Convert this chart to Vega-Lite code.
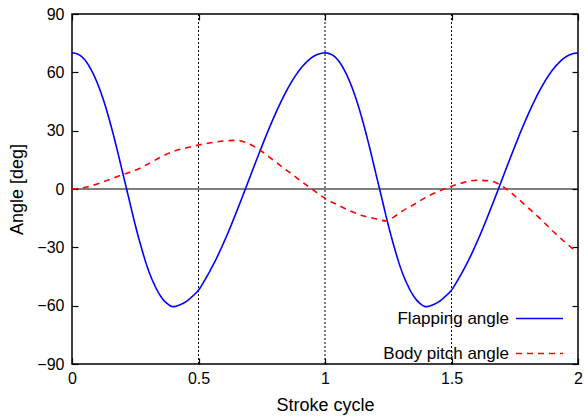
{
  "$schema": "https://vega.github.io/schema/vega-lite/v6.json",
  "width": 506,
  "height": 350,
  "autosize": "none",
  "padding": {"left": 72, "top": 14, "right": 7, "bottom": 53},
  "config": {
    "font": "Liberation Sans",
    "view": {"stroke": "black", "strokeWidth": 1.5},
    "axis": {"labelFont": "Liberation Sans", "titleFont": "Liberation Sans", "labelColor": "black", "titleColor": "black", "tickColor": "black", "tickWidth": 1.2, "domain": false, "grid": false, "titleFontWeight": "normal"}
  },
  "datasets": {
    "curves": [
      {"t": 0, "angle": 70, "series": "Flapping angle"},
      {"t": 0.025, "angle": 69.2, "series": "Flapping angle"},
      {"t": 0.05, "angle": 66.5, "series": "Flapping angle"},
      {"t": 0.075, "angle": 61.5, "series": "Flapping angle"},
      {"t": 0.1, "angle": 54.5, "series": "Flapping angle"},
      {"t": 0.125, "angle": 45.5, "series": "Flapping angle"},
      {"t": 0.15, "angle": 34.5, "series": "Flapping angle"},
      {"t": 0.175, "angle": 22, "series": "Flapping angle"},
      {"t": 0.2, "angle": 8.5, "series": "Flapping angle"},
      {"t": 0.225, "angle": -5, "series": "Flapping angle"},
      {"t": 0.25, "angle": -18.5, "series": "Flapping angle"},
      {"t": 0.275, "angle": -30.5, "series": "Flapping angle"},
      {"t": 0.3, "angle": -41, "series": "Flapping angle"},
      {"t": 0.325, "angle": -49, "series": "Flapping angle"},
      {"t": 0.35, "angle": -55, "series": "Flapping angle"},
      {"t": 0.375, "angle": -58.8, "series": "Flapping angle"},
      {"t": 0.4, "angle": -60.5, "series": "Flapping angle"},
      {"t": 0.425, "angle": -59.6, "series": "Flapping angle"},
      {"t": 0.45, "angle": -58, "series": "Flapping angle"},
      {"t": 0.475, "angle": -55.3, "series": "Flapping angle"},
      {"t": 0.5, "angle": -52, "series": "Flapping angle"},
      {"t": 0.525, "angle": -46.8, "series": "Flapping angle"},
      {"t": 0.55, "angle": -41, "series": "Flapping angle"},
      {"t": 0.575, "angle": -34.6, "series": "Flapping angle"},
      {"t": 0.6, "angle": -27.5, "series": "Flapping angle"},
      {"t": 0.625, "angle": -19.9, "series": "Flapping angle"},
      {"t": 0.65, "angle": -11.8, "series": "Flapping angle"},
      {"t": 0.675, "angle": -3.5, "series": "Flapping angle"},
      {"t": 0.7, "angle": 5, "series": "Flapping angle"},
      {"t": 0.725, "angle": 13.5, "series": "Flapping angle"},
      {"t": 0.75, "angle": 21.8, "series": "Flapping angle"},
      {"t": 0.775, "angle": 29.9, "series": "Flapping angle"},
      {"t": 0.8, "angle": 37.5, "series": "Flapping angle"},
      {"t": 0.825, "angle": 44.6, "series": "Flapping angle"},
      {"t": 0.85, "angle": 51, "series": "Flapping angle"},
      {"t": 0.875, "angle": 56.6, "series": "Flapping angle"},
      {"t": 0.9, "angle": 61.3, "series": "Flapping angle"},
      {"t": 0.925, "angle": 65, "series": "Flapping angle"},
      {"t": 0.95, "angle": 67.8, "series": "Flapping angle"},
      {"t": 0.975, "angle": 69.4, "series": "Flapping angle"},
      {"t": 1.0, "angle": 70, "series": "Flapping angle"},
      {"t": 1.025, "angle": 69.2, "series": "Flapping angle"},
      {"t": 1.05, "angle": 66.5, "series": "Flapping angle"},
      {"t": 1.075, "angle": 61.5, "series": "Flapping angle"},
      {"t": 1.1, "angle": 54.5, "series": "Flapping angle"},
      {"t": 1.125, "angle": 45.5, "series": "Flapping angle"},
      {"t": 1.15, "angle": 34.5, "series": "Flapping angle"},
      {"t": 1.175, "angle": 22, "series": "Flapping angle"},
      {"t": 1.2, "angle": 8.5, "series": "Flapping angle"},
      {"t": 1.225, "angle": -5, "series": "Flapping angle"},
      {"t": 1.25, "angle": -18.5, "series": "Flapping angle"},
      {"t": 1.275, "angle": -30.5, "series": "Flapping angle"},
      {"t": 1.3, "angle": -41, "series": "Flapping angle"},
      {"t": 1.325, "angle": -49, "series": "Flapping angle"},
      {"t": 1.35, "angle": -55, "series": "Flapping angle"},
      {"t": 1.375, "angle": -58.8, "series": "Flapping angle"},
      {"t": 1.4, "angle": -60.5, "series": "Flapping angle"},
      {"t": 1.425, "angle": -59.6, "series": "Flapping angle"},
      {"t": 1.45, "angle": -58, "series": "Flapping angle"},
      {"t": 1.475, "angle": -55.3, "series": "Flapping angle"},
      {"t": 1.5, "angle": -52, "series": "Flapping angle"},
      {"t": 1.525, "angle": -46.8, "series": "Flapping angle"},
      {"t": 1.55, "angle": -41, "series": "Flapping angle"},
      {"t": 1.575, "angle": -34.6, "series": "Flapping angle"},
      {"t": 1.6, "angle": -27.5, "series": "Flapping angle"},
      {"t": 1.625, "angle": -19.9, "series": "Flapping angle"},
      {"t": 1.65, "angle": -11.8, "series": "Flapping angle"},
      {"t": 1.675, "angle": -3.5, "series": "Flapping angle"},
      {"t": 1.7, "angle": 5, "series": "Flapping angle"},
      {"t": 1.725, "angle": 13.5, "series": "Flapping angle"},
      {"t": 1.75, "angle": 21.8, "series": "Flapping angle"},
      {"t": 1.775, "angle": 29.9, "series": "Flapping angle"},
      {"t": 1.8, "angle": 37.5, "series": "Flapping angle"},
      {"t": 1.825, "angle": 44.6, "series": "Flapping angle"},
      {"t": 1.85, "angle": 51, "series": "Flapping angle"},
      {"t": 1.875, "angle": 56.6, "series": "Flapping angle"},
      {"t": 1.9, "angle": 61.3, "series": "Flapping angle"},
      {"t": 1.925, "angle": 65, "series": "Flapping angle"},
      {"t": 1.95, "angle": 67.8, "series": "Flapping angle"},
      {"t": 1.975, "angle": 69.4, "series": "Flapping angle"},
      {"t": 2.0, "angle": 70, "series": "Flapping angle"},
      {"t": 0, "angle": 0, "series": "Body pitch angle"},
      {"t": 0.05, "angle": 0.8, "series": "Body pitch angle"},
      {"t": 0.1, "angle": 2.6, "series": "Body pitch angle"},
      {"t": 0.15, "angle": 5, "series": "Body pitch angle"},
      {"t": 0.2, "angle": 7.4, "series": "Body pitch angle"},
      {"t": 0.25, "angle": 9.6, "series": "Body pitch angle"},
      {"t": 0.3, "angle": 12.8, "series": "Body pitch angle"},
      {"t": 0.35, "angle": 16.4, "series": "Body pitch angle"},
      {"t": 0.4, "angle": 19.3, "series": "Body pitch angle"},
      {"t": 0.45, "angle": 21.1, "series": "Body pitch angle"},
      {"t": 0.5, "angle": 22.6, "series": "Body pitch angle"},
      {"t": 0.55, "angle": 23.8, "series": "Body pitch angle"},
      {"t": 0.6, "angle": 24.7, "series": "Body pitch angle"},
      {"t": 0.65, "angle": 25, "series": "Body pitch angle"},
      {"t": 0.7, "angle": 23.2, "series": "Body pitch angle"},
      {"t": 0.75, "angle": 19.3, "series": "Body pitch angle"},
      {"t": 0.8, "angle": 14.4, "series": "Body pitch angle"},
      {"t": 0.85, "angle": 9.5, "series": "Body pitch angle"},
      {"t": 0.9, "angle": 4.6, "series": "Body pitch angle"},
      {"t": 0.95, "angle": -0.2, "series": "Body pitch angle"},
      {"t": 1.0, "angle": -4.8, "series": "Body pitch angle"},
      {"t": 1.05, "angle": -8.2, "series": "Body pitch angle"},
      {"t": 1.1, "angle": -11.3, "series": "Body pitch angle"},
      {"t": 1.15, "angle": -13.8, "series": "Body pitch angle"},
      {"t": 1.2, "angle": -15.3, "series": "Body pitch angle"},
      {"t": 1.24, "angle": -16.4, "series": "Body pitch angle"},
      {"t": 1.27, "angle": -14.6, "series": "Body pitch angle"},
      {"t": 1.3, "angle": -11.8, "series": "Body pitch angle"},
      {"t": 1.35, "angle": -8.1, "series": "Body pitch angle"},
      {"t": 1.4, "angle": -4.2, "series": "Body pitch angle"},
      {"t": 1.45, "angle": -1.2, "series": "Body pitch angle"},
      {"t": 1.5, "angle": 1.4, "series": "Body pitch angle"},
      {"t": 1.55, "angle": 3.4, "series": "Body pitch angle"},
      {"t": 1.6, "angle": 4.5, "series": "Body pitch angle"},
      {"t": 1.65, "angle": 4.2, "series": "Body pitch angle"},
      {"t": 1.7, "angle": 1.5, "series": "Body pitch angle"},
      {"t": 1.75, "angle": -3.5, "series": "Body pitch angle"},
      {"t": 1.8, "angle": -9.3, "series": "Body pitch angle"},
      {"t": 1.85, "angle": -15.2, "series": "Body pitch angle"},
      {"t": 1.9, "angle": -21.6, "series": "Body pitch angle"},
      {"t": 1.95, "angle": -27.5, "series": "Body pitch angle"},
      {"t": 2.0, "angle": -33, "series": "Body pitch angle"}
    ],
    "vgrid": [{"t": 0.5}, {"t": 1}, {"t": 1.5}],
    "zero": [{"angle": 0}],
    "mirror": [{"t": 0, "angle": 0}]
  },
  "resolve": {"scale": {"x": "independent", "y": "independent"}},
  "layer": [
    {
      "layer": [
        {
          "data": {"name": "vgrid"},
          "mark": {"type": "rule", "color": "black", "strokeWidth": 1, "strokeDash": [2, 2]},
          "encoding": {
            "x": {"field": "t", "type": "quantitative", "scale": {"domain": [0, 2]}}
          }
        },
        {
          "data": {"name": "zero"},
          "mark": {"type": "rule", "color": "black", "strokeWidth": 1},
          "encoding": {
            "y": {"field": "angle", "type": "quantitative", "scale": {"domain": [-90, 90]}}
          }
        },
        {
          "data": {"name": "curves"},
          "mark": {"type": "line", "interpolate": "monotone", "strokeWidth": 1.6},
          "encoding": {
            "x": {"field": "t", "type": "quantitative", "scale": {"domain": [0, 2], "nice": false},
              "axis": {"orient": "bottom", "values": [0, 0.5, 1, 1.5, 2], "format": "~g", "title": "Stroke cycle", "labelFontSize": 16, "titleFontSize": 18, "offset": -6, "tickSize": 6, "labelPadding": 6, "titlePadding": 10, "labelFlush": false}},
            "y": {"field": "angle", "type": "quantitative", "scale": {"domain": [-90, 90], "nice": false},
              "axis": {"orient": "left", "values": [-90, -60, -30, 0, 30, 60, 90], "title": "Angle [deg]", "labelFontSize": 16, "titleFontSize": 18, "offset": -6, "tickSize": 6, "labelPadding": 8, "titlePadding": 10}},
            "color": {"field": "series", "type": "nominal",
              "scale": {"domain": ["Flapping angle", "Body pitch angle"], "range": ["#0000ff", "#ff0000"]},
              "legend": {"title": null, "orient": "none", "legendX": 443, "legendY": 280, "symbolType": "stroke", "symbolSize": 2209, "symbolStrokeWidth": 1.6, "labelFontSize": 17, "labelFont": "Liberation Sans", "labelAlign": "right", "labelOffset": -55, "padding": 0, "labelLimit": 300}},
            "strokeDash": {"field": "series", "type": "nominal",
              "scale": {"domain": ["Flapping angle", "Body pitch angle"], "range": [[1, 0], [6, 5]]},
              "legend": {"title": null, "orient": "none", "legendX": 443, "legendY": 280, "symbolType": "stroke", "symbolSize": 2209, "symbolStrokeWidth": 1.6, "labelFontSize": 17, "labelFont": "Liberation Sans", "labelAlign": "right", "labelOffset": -55, "padding": 0, "labelLimit": 300}}
          }
        }
      ]
    },
    {
      "data": {"name": "mirror"},
      "mark": {"type": "point", "opacity": 0},
      "encoding": {
        "x": {"field": "t", "type": "quantitative", "scale": {"domain": [0, 2], "nice": false},
          "axis": {"orient": "top", "values": [0, 0.5, 1, 1.5, 2], "labels": false, "title": null, "offset": -6, "tickSize": 6}},
        "y": {"field": "angle", "type": "quantitative", "scale": {"domain": [-90, 90], "nice": false},
          "axis": {"orient": "right", "values": [-90, -60, -30, 0, 30, 60, 90], "labels": false, "title": null, "offset": -6, "tickSize": 6}}
      }
    }
  ]
}
